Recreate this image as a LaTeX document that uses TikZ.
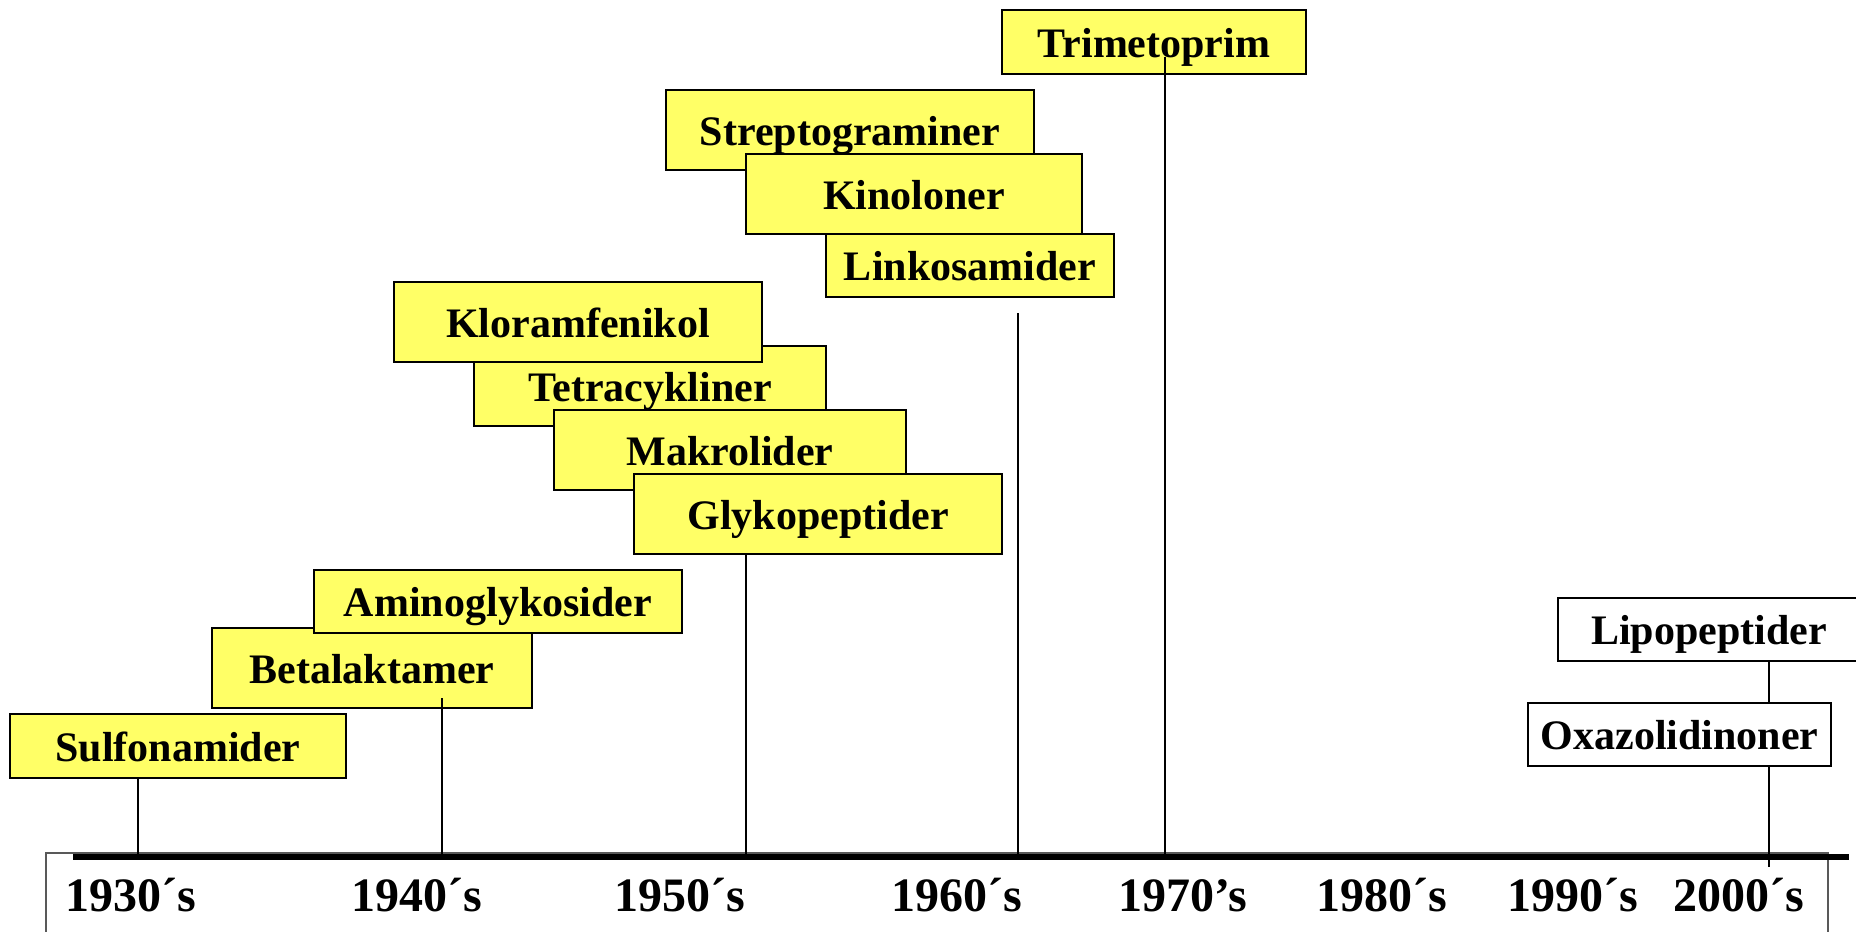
\documentclass[tikz,border=0pt]{standalone}
\usepackage{fontspec}
\setmainfont{Liberation Serif}
\definecolor{boxyellow}{RGB}{255,255,102}
\tikzset{
  drugbox/.style={draw=black, line width=1pt, fill=boxyellow, inner sep=0pt,
    font=\fontsize{21}{24}\selectfont\bfseries, text height=16pt, text depth=0.6pt},
  newbox/.style={drugbox, fill=white},
  stem/.style={draw=black, line width=0.6pt},
  axisline/.style={draw=black, line width=2.6pt},
  frameline/.style={draw=black!65, line width=0.6pt},
  yearlabel/.style={font=\fontsize{24}{28}\selectfont\bfseries, anchor=base, inner sep=0pt}
}
\begin{document}
\begin{tikzpicture}[x=0.5pt, y=-0.5pt]
\useasboundingbox (0,0) rectangle (1856,931);
\clip (0,0) rectangle (1856,931);
% frame
\draw[frameline] (46,940) -- (46,853) -- (1828,853) -- (1828,940);
% boxes
\node[drugbox, minimum width=152pt, minimum height=32pt] (trim) at (1154,42) {Trimetoprim};
\node[drugbox, minimum width=184pt, minimum height=40pt] (strep) at (850,130) {Streptograminer};
\node[drugbox, minimum width=168pt, minimum height=40pt] (kino) at (914,194) {Kinoloner};
\node[drugbox, minimum width=144pt, minimum height=31.5pt] (link) at (970,265.5) {Linkosamider};
\node[drugbox, minimum width=176pt, minimum height=40pt] (tetra) at (650,386) {Tetracykliner};
\node[drugbox, minimum width=184pt, minimum height=40pt] (klor) at (578,322) {Kloramfenikol};
\node[drugbox, minimum width=176pt, minimum height=40pt] (makro) at (730,450) {Makrolider};
\node[drugbox, minimum width=184pt, minimum height=40pt] (glyko) at (818,514) {Glykopeptider};
\node[drugbox, minimum width=160pt, minimum height=40pt] (beta) at (372,668) {Betalaktamer};
\node[drugbox, minimum width=184pt, minimum height=31.5pt] (amino) at (498,601.5) {Aminoglykosider};
\node[drugbox, minimum width=168pt, minimum height=32pt] (sulf) at (178,746) {Sulfonamider};
\node[newbox, minimum width=151pt, minimum height=31.5pt] (lipo) at (1709,629.5) {Lipopeptider};
\node[newbox, minimum width=151.5pt, minimum height=31.5pt] (oxa) at (1679.5,734.5) {Oxazolidinoner};
% axis
\coordinate (axL) at (73,857);
\coordinate (axR) at (1849,857);
\coordinate (t1930) at (138,857);
\coordinate (t1940) at (442,857);
\coordinate (t1950) at (746,857);
\coordinate (t1960) at (1018,857);
\coordinate (t1970) at (1165,857);
\coordinate (t2000) at (1769,867);
\coordinate (s1940) at (442,698);
\coordinate (s1960) at (1018,313);
\coordinate (s1970) at (1165,57);
% stems
\draw[stem] (t1930 |- sulf.south) -- (t1930);
\draw[stem] (s1940) -- (t1940);
\draw[stem] (t1950 |- glyko.south) -- (t1950);
\draw[stem] (s1960) -- (t1960);
\draw[stem] (s1970) -- (t1970);
\draw[stem] (t2000 |- lipo.south) -- (t2000 |- oxa.north);
\draw[stem] (t2000 |- oxa.south) -- (t2000);
\draw[axisline] (axL) -- (axR);
% year labels
\node[yearlabel] (y1930) at (131,911) {1930´s};
\node[yearlabel] (y1940) at (417,911) {1940´s};
\node[yearlabel] (y1950) at (680,911) {1950´s};
\node[yearlabel] (y1960) at (957,911) {1960´s};
\node[yearlabel] (y1970) at (1183,911) {1970’s};
\node[yearlabel] (y1980) at (1382,911) {1980´s};
\node[yearlabel] (y1990) at (1573,911) {1990´s};
\node[yearlabel] (y2000) at (1739,911) {2000´s};
\end{tikzpicture}
\end{document}
